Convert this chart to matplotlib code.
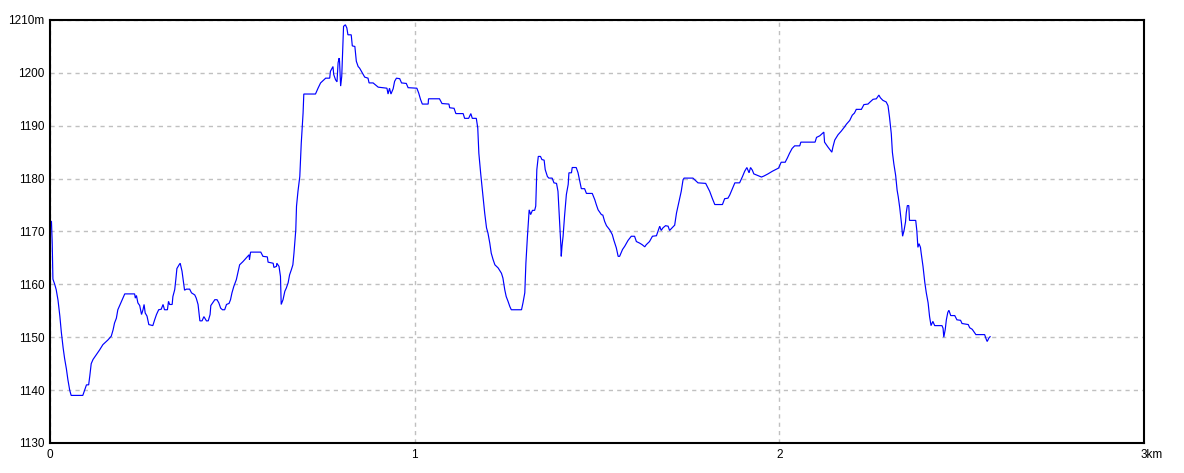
import matplotlib
matplotlib.use("Agg")
import matplotlib.pyplot as plt
import matplotlib.transforms as mtransforms

distance_km = [
    0.000, 0.004, 0.006, 0.008, 0.013, 0.017, 0.022, 0.027, 0.031, 0.036, 0.040, 0.045, 0.049, 0.054, 0.058,
    0.090, 0.095, 0.100, 0.106, 0.109, 0.113, 0.118, 0.127, 0.136, 0.145, 0.159, 0.168, 0.173, 0.177, 0.182,
    0.186, 0.196, 0.205, 0.232, 0.234, 0.237, 0.241, 0.246, 0.251, 0.255, 0.258, 0.261, 0.266, 0.271, 0.282,
    0.287, 0.292, 0.298, 0.305, 0.310, 0.314, 0.322, 0.325, 0.328, 0.335, 0.337, 0.342, 0.345, 0.348, 0.354,
    0.357, 0.362, 0.367, 0.369, 0.374, 0.383, 0.388, 0.397, 0.401, 0.406, 0.409, 0.411, 0.417, 0.422, 0.429,
    0.434, 0.439, 0.441, 0.447, 0.452, 0.458, 0.463, 0.468, 0.473, 0.479, 0.484, 0.491, 0.495, 0.499, 0.504,
    0.511, 0.516, 0.520, 0.529, 0.538, 0.546, 0.547, 0.550, 0.578, 0.584, 0.596, 0.598, 0.612, 0.614, 0.621,
    0.622, 0.628, 0.632, 0.634, 0.639, 0.644, 0.648, 0.653, 0.657, 0.662, 0.666, 0.669, 0.674, 0.676, 0.680,
    0.685, 0.689, 0.694, 0.696, 0.728, 0.735, 0.742, 0.756, 0.767, 0.769, 0.776, 0.778, 0.783, 0.787, 0.790,
    0.793, 0.794, 0.797, 0.800, 0.803, 0.805, 0.810, 0.814, 0.817, 0.826, 0.829, 0.836, 0.840, 0.845, 0.849,
    0.854, 0.863, 0.872, 0.875, 0.886, 0.900, 0.924, 0.927, 0.931, 0.935, 0.941, 0.945, 0.950, 0.959, 0.964,
    0.977, 0.982, 1.006, 1.011, 1.016, 1.021, 1.037, 1.038, 1.068, 1.075, 1.094, 1.096, 1.108, 1.113, 1.133,
    1.137, 1.148, 1.154, 1.158, 1.169, 1.173, 1.176, 1.181, 1.187, 1.192, 1.197, 1.201, 1.206, 1.210, 1.215,
    1.220, 1.229, 1.238, 1.242, 1.247, 1.251, 1.256, 1.261, 1.265, 1.293, 1.297, 1.302, 1.305, 1.309, 1.314,
    1.318, 1.323, 1.329, 1.332, 1.335, 1.339, 1.345, 1.349, 1.355, 1.358, 1.364, 1.368, 1.377, 1.382, 1.389,
    1.393, 1.398, 1.401, 1.402, 1.404, 1.407, 1.411, 1.416, 1.421, 1.423, 1.430, 1.432, 1.443, 1.448, 1.452,
    1.457, 1.466, 1.471, 1.487, 1.494, 1.498, 1.503, 1.512, 1.516, 1.521, 1.526, 1.535, 1.542, 1.546, 1.553,
    1.558, 1.562, 1.570, 1.576, 1.585, 1.594, 1.603, 1.608, 1.617, 1.624, 1.631, 1.635, 1.644, 1.652, 1.663,
    1.667, 1.672, 1.676, 1.681, 1.688, 1.695, 1.699, 1.706, 1.713, 1.718, 1.725, 1.731, 1.736, 1.739, 1.763,
    1.777, 1.798, 1.809, 1.816, 1.823, 1.844, 1.850, 1.859, 1.864, 1.870, 1.878, 1.891, 1.899, 1.905, 1.911,
    1.917, 1.921, 1.926, 1.930, 1.937, 1.951, 1.958, 1.969, 1.981, 1.992, 1.998, 2.005, 2.016, 2.022, 2.028,
    2.035, 2.042, 2.056, 2.059, 2.098, 2.102, 2.111, 2.122, 2.124, 2.133, 2.144, 2.147, 2.152, 2.161, 2.170,
    2.179, 2.184, 2.193, 2.200, 2.206, 2.211, 2.225, 2.232, 2.243, 2.249, 2.257, 2.266, 2.273, 2.277, 2.284,
    2.293, 2.298, 2.302, 2.307, 2.310, 2.314, 2.319, 2.323, 2.326, 2.330, 2.335, 2.338, 2.342, 2.346, 2.348,
    2.351, 2.355, 2.357, 2.374, 2.377, 2.380, 2.383, 2.387, 2.389, 2.394, 2.399, 2.403, 2.408, 2.412, 2.416,
    2.421, 2.426, 2.446, 2.449, 2.451, 2.455, 2.458, 2.462, 2.465, 2.470, 2.481, 2.487, 2.497, 2.501, 2.518,
    2.522, 2.529, 2.533, 2.539, 2.563, 2.568, 2.570, 2.575, 2.578,
]

elevation_m = [
    1172.0, 1171.9, 1168.0, 1161.0, 1160.0, 1159.0, 1157.0, 1154.0, 1151.0, 1148.0, 1146.0, 1144.0, 1142.0, 1140.0, 1139.0,
    1139.0, 1140.0, 1141.0, 1141.0, 1142.6, 1145.0, 1145.8, 1146.7, 1147.6, 1148.6, 1149.5, 1150.2, 1151.4, 1152.7, 1153.6,
    1155.2, 1156.8, 1158.2, 1158.2, 1157.4, 1157.9, 1156.5, 1156.0, 1154.3, 1155.2, 1156.2, 1154.6, 1154.0, 1152.4, 1152.2,
    1153.3, 1154.3, 1155.2, 1155.3, 1156.2, 1155.2, 1155.2, 1156.8, 1156.2, 1156.2, 1157.7, 1159.0, 1160.9, 1163.0, 1163.7,
    1164.0, 1162.5, 1160.0, 1158.9, 1159.1, 1159.1, 1158.4, 1158.0, 1157.4, 1156.2, 1154.3, 1153.1, 1153.1, 1153.9, 1153.1,
    1153.1, 1154.3, 1156.0, 1156.6, 1157.1, 1157.1, 1156.5, 1155.5, 1155.2, 1155.2, 1156.2, 1156.4, 1157.1, 1158.4, 1159.6,
    1160.9, 1162.5, 1163.7, 1164.3, 1165.0, 1165.6, 1164.7, 1166.1, 1166.1, 1165.3, 1165.2, 1164.2, 1164.0, 1163.2, 1163.4,
    1164.0, 1163.4, 1161.5, 1156.2, 1157.1, 1158.7, 1159.3, 1160.3, 1161.8, 1162.8, 1163.7, 1165.9, 1170.3, 1174.8, 1177.6,
    1180.4, 1186.7, 1192.4, 1196.0, 1196.0, 1197.1, 1198.1, 1199.0, 1199.0, 1200.3, 1201.2, 1199.7, 1198.7, 1198.3, 1201.9,
    1202.8, 1202.2, 1197.5, 1199.3, 1205.0, 1208.8, 1209.1, 1208.5, 1207.2, 1207.2, 1205.1, 1205.0, 1202.2, 1201.2, 1200.9,
    1200.3, 1199.2, 1199.0, 1198.1, 1198.1, 1197.3, 1197.1, 1196.0, 1197.1, 1196.0, 1197.0, 1198.4, 1199.0, 1198.9, 1198.1,
    1198.0, 1197.2, 1197.1, 1196.2, 1195.0, 1194.1, 1194.1, 1195.1, 1195.1, 1194.2, 1194.1, 1193.4, 1193.3, 1192.3, 1192.3,
    1191.4, 1191.4, 1192.3, 1191.4, 1191.4, 1189.6, 1184.8, 1181.0, 1177.0, 1173.5, 1170.7, 1169.7, 1167.8, 1165.9, 1164.7,
    1163.7, 1163.1, 1162.1, 1161.2, 1159.0, 1157.7, 1156.8, 1155.8, 1155.2, 1155.2, 1156.5, 1158.4, 1164.0, 1168.8, 1174.1,
    1173.2, 1174.0, 1174.0, 1174.8, 1181.7, 1184.2, 1184.2, 1183.6, 1183.5, 1181.7, 1180.4, 1180.1, 1180.1, 1179.2, 1179.1,
    1177.6, 1171.0, 1167.2, 1165.3, 1167.2, 1169.1, 1172.9, 1177.0, 1178.9, 1181.1, 1181.1, 1182.1, 1182.1, 1181.1, 1179.8,
    1178.1, 1178.1, 1177.2, 1177.2, 1176.0, 1175.1, 1174.1, 1173.2, 1173.1, 1171.9, 1171.1, 1170.3, 1169.4, 1168.4, 1166.9,
    1165.3, 1165.3, 1166.6, 1167.2, 1168.3, 1169.1, 1169.1, 1168.1, 1167.8, 1167.5, 1167.1, 1167.5, 1168.1, 1169.1, 1169.2,
    1170.0, 1171.0, 1170.2, 1170.7, 1171.1, 1171.0, 1170.2, 1170.7, 1171.2, 1173.5, 1175.7, 1177.6, 1179.8, 1180.1, 1180.1,
    1179.2, 1179.1, 1177.6, 1176.3, 1175.1, 1175.1, 1176.2, 1176.3, 1176.9, 1177.9, 1179.2, 1179.2, 1180.4, 1181.4, 1182.1,
    1181.1, 1182.1, 1181.6, 1180.9, 1180.7, 1180.3, 1180.5, 1180.9, 1181.4, 1181.8, 1182.0, 1183.1, 1183.1, 1183.9, 1184.8,
    1185.7, 1186.2, 1186.2, 1186.9, 1186.9, 1187.8, 1188.1, 1188.8, 1186.9, 1186.0, 1185.0, 1186.0, 1187.3, 1188.3, 1189.0,
    1189.8, 1190.3, 1191.0, 1192.0, 1192.4, 1193.1, 1193.1, 1194.0, 1194.1, 1194.5, 1195.0, 1195.1, 1195.8, 1195.3, 1194.8,
    1194.5, 1193.8, 1191.7, 1188.5, 1185.0, 1182.8, 1180.6, 1177.8, 1176.6, 1174.6, 1171.5, 1169.1, 1170.2, 1171.8, 1173.5,
    1174.9, 1174.9, 1172.1, 1172.1, 1170.2, 1167.0, 1167.7, 1167.0, 1165.9, 1163.4, 1160.3, 1158.4, 1156.5, 1153.9, 1152.2,
    1153.0, 1152.2, 1152.2, 1151.7, 1150.0, 1151.5, 1153.3, 1154.7, 1155.1, 1154.1, 1154.1, 1153.3, 1153.2, 1152.6, 1152.4,
    1151.8, 1151.5, 1151.1, 1150.5, 1150.5, 1149.5, 1149.2, 1149.9, 1150.1,
]

y_ticks = [1130, 1140, 1150, 1160, 1170, 1180, 1190, 1200, 1210]
y_tick_labels = ["1130", "1140", "1150", "1160", "1170", "1180", "1190", "1200", "1210m"]
x_ticks = [0, 1, 2, 3]
x_tick_labels = ["0", "1", "2", "3km"]

plt.rcParams['font.family'] = ['Liberation Sans', 'DejaVu Sans']

fig = plt.figure(figsize=(11.84, 4.73), dpi=100)
ax = fig.add_axes([50 / 1184, 30 / 473, 1094 / 1184, 423 / 473])

ax.plot(distance_km, elevation_m, color='#0000ff', linewidth=0.85, solid_joinstyle='miter')

ax.set_xlim(0, 3)
ax.set_ylim(1130, 1210)
ax.set_xticks(x_ticks)
ax.set_xticklabels(x_tick_labels)
ax.set_yticks(y_ticks)
ax.set_yticklabels(y_tick_labels)
ax.tick_params(length=0, labelsize=8.5, colors='black', pad=4)
ax.grid(True, color='#c0c0c0', linestyle=(0, (3, 3)), linewidth=1.0)
ax.set_axisbelow(True)
for s in ax.spines.values():
    s.set_color('black')
    s.set_linewidth(1.5)

# "3km": the digit sits over the tick, the unit runs to the right
last = ax.get_xticklabels()[-1]
last.set_horizontalalignment('left')
last.set_transform(last.get_transform() + mtransforms.ScaledTranslation(-3.5 / 100, 0, fig.dpi_scale_trans))

fig.savefig('out.png', dpi=100, facecolor='white')
